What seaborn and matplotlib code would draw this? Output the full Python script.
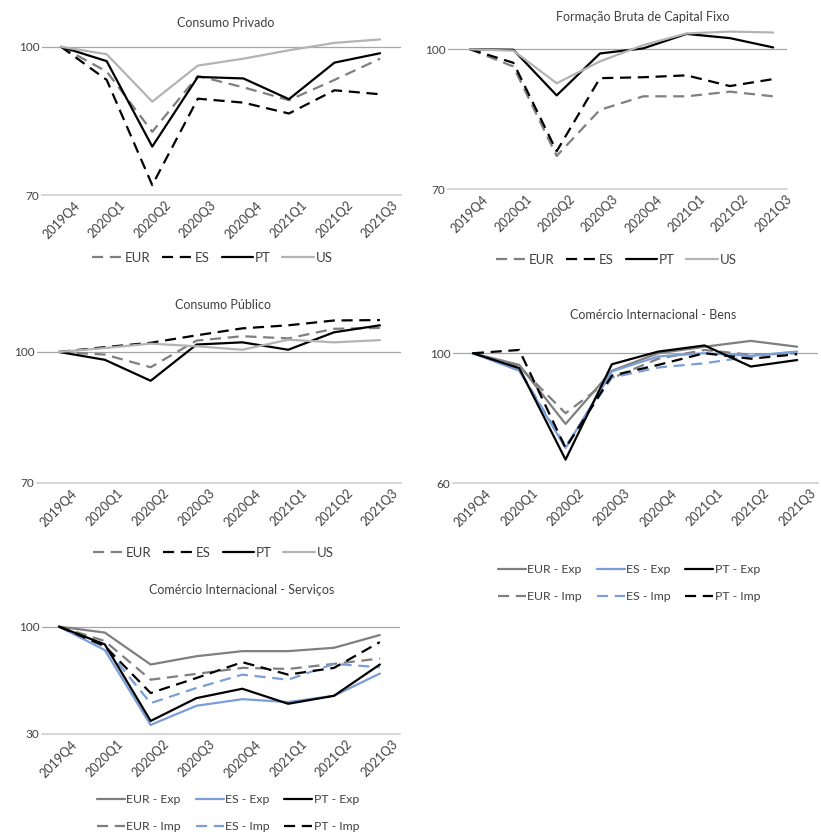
import pandas as pd
import matplotlib.pyplot as plt
import seaborn as sns

quarters = ["2019Q4", "2020Q1", "2020Q2", "2020Q3", "2020Q4", "2021Q1", "2021Q2", "2021Q3"]

# Consumo Privado
cp_eur = [100, 95.0, 82.8, 94.1, 91.8, 89.2, 93.3, 97.6]
cp_es = [100, 93.3, 72.0, 89.5, 88.7, 86.5, 91.2, 90.4]
cp_pt = [100, 97.1, 79.8, 93.9, 93.6, 89.4, 96.8, 98.7]
cp_us = [100, 98.5, 88.9, 96.2, 97.6, 99.3, 100.8, 101.5]

# Formacao Bruta de Capital Fixo
fb_eur = [100, 96.3, 77.1, 87.0, 89.9, 89.9, 90.9, 89.9]
fb_es = [100, 97.1, 78.1, 93.8, 94.0, 94.4, 92.1, 93.6]
fb_pt = [100, 99.9, 90.1, 99.1, 100.2, 103.3, 102.4, 100.4]
fb_us = [100, 99.7, 92.7, 97.4, 100.9, 103.4, 103.8, 103.6]

# Consumo Publico
cg_eur = [100, 99.4, 96.5, 102.6, 103.6, 103.1, 105.3, 105.5]
cg_es = [100, 101.1, 102.1, 103.8, 105.4, 106.1, 107.2, 107.3]
cg_pt = [100, 98.2, 93.4, 101.7, 102.2, 100.5, 104.5, 106.1]
cg_us = [100, 100.9, 101.9, 101.3, 100.5, 102.8, 102.2, 102.7]

# Comercio Internacional - Bens
gb_eur_exp = [100, 96.4, 78.2, 94.6, 100.0, 102.0, 103.8, 102.0]
gb_es_exp = [100, 94.6, 70.8, 94.4, 99.0, 100.0, 99.2, 100.5]
gb_pt_exp = [100, 95.4, 67.2, 96.6, 100.5, 102.4, 95.9, 97.9]
gb_eur_imp = [100, 95.9, 81.5, 92.3, 98.3, 101.0, 99.5, 100.0]
gb_es_imp = [100, 94.9, 71.3, 92.5, 95.6, 96.9, 99.0, 100.5]
gb_pt_imp = [100, 101.0, 70.8, 93.1, 96.4, 100.0, 98.3, 99.7]

# Comercio Internacional - Servicos
sv_eur_exp = [100, 96.1, 75.3, 80.7, 84.0, 84.0, 86.2, 94.5]
sv_es_exp = [100, 84.7, 35.9, 48.4, 52.7, 50.8, 54.9, 69.4]
sv_pt_exp = [100, 88.4, 38.5, 53.4, 59.5, 49.7, 54.9, 75.3]
sv_eur_imp = [100, 90.6, 65.4, 69.2, 73.1, 72.4, 75.7, 79.2]
sv_es_imp = [100, 86.9, 50.1, 60.0, 68.7, 65.4, 75.7, 73.5]
sv_pt_imp = [100, 87.3, 56.7, 66.5, 76.8, 68.7, 73.1, 89.9]

GREY = "#7f7f7f"
LIGHT = "#b3b3b3"
BLACK = "#000000"
BLUE = "#7a9ed8"
TXT = "#404040"
DASH = (5, 3)

sns.set_style("white")
plt.rcParams["font.family"] = ["Lato", "DejaVu Sans"]

W, H = 821, 834
fig = plt.figure(figsize=(W / 100, H / 100), dpi=100)


def panel(box, xlim, ylim, yticks, title, title_xy, series, ncol, legend_xy, small):
    x0, x1, ytop, ybot = box
    ax = fig.add_axes([x0 / W, 1 - ybot / H, (x1 - x0) / W, (ybot - ytop) / H])
    for name, vals, color, dashed in series:
        df = pd.DataFrame({"q": range(len(quarters)), "v": vals})
        sns.lineplot(data=df, x="q", y="v", ax=ax, color=color, lw=1.6,
                     label=name, dashes=False)
        if dashed:
            ax.lines[-1].set_dashes(DASH)
    ax.set_xlim(*xlim)
    ax.set_ylim(*ylim)
    ax.set_yticks(yticks)
    ax.set_xticks(range(len(quarters)))
    ax.set_xticklabels(quarters, rotation=45, ha="center", fontsize=9, color=TXT)
    ax.tick_params(axis="y", labelsize=8.5, labelcolor=TXT, length=0, pad=2)
    ax.tick_params(axis="x", length=0, pad=3)
    ax.set_xlabel("")
    ax.set_ylabel("")
    for s in ["top", "right", "left"]:
        ax.spines[s].set_visible(False)
    ax.spines["bottom"].set_color("#d0d0d0")
    ax.spines["bottom"].set_linewidth(1.2)
    ax.axhline(100, color="#a6a6a6", lw=0.9, zorder=0)
    fig.text(title_xy[0] / W, 1 - title_xy[1] / H, title, ha="center",
             va="center", fontsize=9, color=TXT)
    handles, labels = ax.get_legend_handles_labels()
    if small:
        kw = dict(fontsize=8.8, handlelength=2.3, columnspacing=1.2, labelspacing=1.3)
    else:
        kw = dict(fontsize=9.5, handlelength=2.4, columnspacing=0.9, labelspacing=1.0)
    ax.legend(handles, labels, ncol=ncol, frameon=False, loc="center",
              bbox_to_anchor=(legend_xy[0] / W, 1 - legend_xy[1] / H),
              bbox_transform=fig.transFigure, labelcolor=TXT,
              handletextpad=0.1, **kw)
    return ax


four = lambda e, s, p, u: [("EUR", e, GREY, True), ("ES", s, BLACK, True),
                           ("PT", p, BLACK, False), ("US", u, LIGHT, False)]

panel((42, 401, 32, 195), (-0.42, 7.46), (70, 103), [70, 100],
      "Consumo Privado", (226, 23), four(cp_eur, cp_es, cp_pt, cp_us), 4, (212, 258), False)
panel((448, 787, 26, 189), (-0.51, 7.32), (70, 105), [70, 100],
      "Formação Bruta de Capital Fixo", (643, 17), four(fb_eur, fb_es, fb_pt, fb_us), 4,
      (616, 260), False)
panel((37, 401, 317, 483), (-0.48, 7.46), (70, 108), [70, 100],
      "Consumo Público", (223, 305), four(cg_eur, cg_es, cg_pt, cg_us), 4, (213, 553), False)

six = lambda ee, se, pe, ei, si, pi: [
    ("EUR - Exp", ee, GREY, False), ("EUR - Imp", ei, GREY, True),
    ("ES - Exp", se, BLUE, False), ("ES - Imp", si, BLUE, True),
    ("PT - Exp", pe, BLACK, False), ("PT - Imp", pi, BLACK, True)]

panel((453, 818, 337, 483), (-0.43, 7.45), (60, 105), [60, 100],
      "Comércio Internacional - Bens", (653, 315),
      six(gb_eur_exp, gb_es_exp, gb_pt_exp, gb_eur_imp, gb_es_imp, gb_pt_imp), 3,
      (629, 583), True)
panel((42, 400, 622, 734), (-0.37, 7.44), (30, 103), [30, 100],
      "Comércio Internacional - Serviços", (242, 590),
      six(sv_eur_exp, sv_es_exp, sv_pt_exp, sv_eur_imp, sv_es_imp, sv_pt_imp), 3,
      (228, 813), True)

fig.savefig("out.png", dpi=100, facecolor="white")
